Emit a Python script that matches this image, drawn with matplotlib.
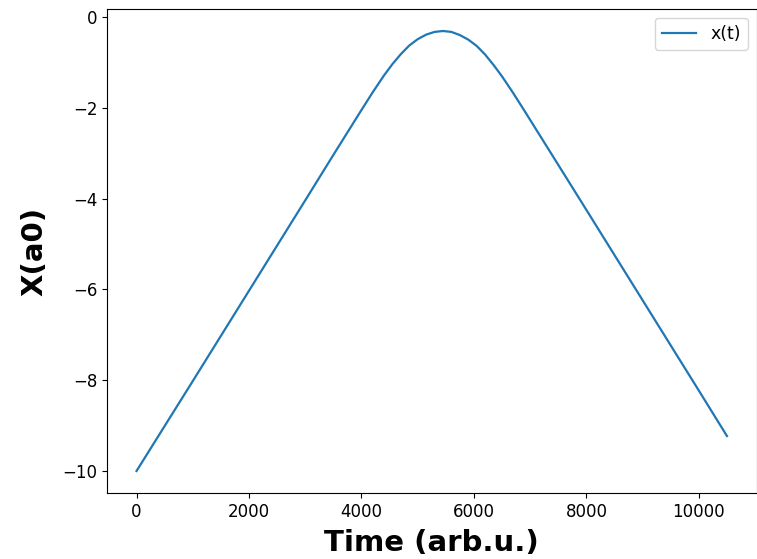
import matplotlib
matplotlib.use("Agg")
import matplotlib.pyplot as plt

# Values
time = [0, 1000, 2000, 3000, 3500, 4000, 4200, 4400, 4550, 4700, 4850, 5000,
        5150, 5300, 5450, 5600, 5750, 5900, 6050, 6200, 6350, 6500, 6700,
        6900, 7400, 8000, 9000, 10000, 10500]
x_pos = [-10.00, -8.02, -6.03, -4.04, -3.04, -2.05, -1.66, -1.29, -1.04, -0.82,
         -0.63, -0.49, -0.39, -0.33, -0.31, -0.33, -0.40, -0.50, -0.64, -0.83,
         -1.06, -1.31, -1.68, -2.07, -3.06, -4.25, -6.24, -8.23, -9.23]
series_label = "x(t)"
x_label = "Time (arb.u.)"
y_label = "X(a0)"

fig = plt.figure(figsize=(7.57, 5.59), dpi=100)
ax = fig.add_axes([107/757, 1 - 493/559, 1 - 107/757 - 0.5/757, (493 - 9)/559])
ax.plot(time, x_pos, color="#1f77b4", linewidth=1.6, label=series_label)
ax.set_xlabel(x_label, fontsize=21, fontweight="bold", labelpad=6)
ax.set_ylabel(y_label, fontsize=21, fontweight="bold", labelpad=10)
ax.tick_params(labelsize=12)
ax.legend(loc="upper right", fontsize=12.5)
fig.savefig("out.png", dpi=100)
